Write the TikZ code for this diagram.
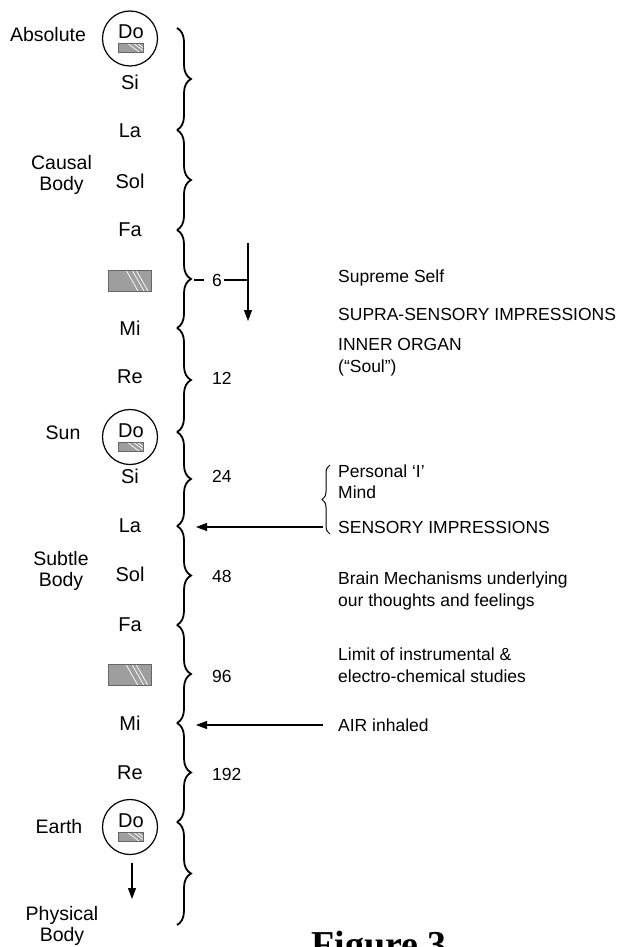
\documentclass[tikz,border=0pt]{standalone}
\usepackage{fontspec}
\setmainfont{Liberation Sans}
\newfontfamily\figfont{Liberation Serif}
\usetikzlibrary{decorations.pathreplacing,arrows.meta}
\begin{document}
\begin{tikzpicture}[x=1pt,y=-1pt,
  note/.style={font=\fontsize{20}{24}\selectfont, inner sep=0pt},
  side/.style={font=\fontsize{19.5}{21}\selectfont, align=center, inner sep=0pt},
  txt/.style={font=\fontsize{17.5}{22}\selectfont, anchor=base west, align=left, inner sep=0pt},
  num/.style={font=\fontsize{17.5}{21}\selectfont, anchor=west, inner sep=0pt},
  bigbrace/.style={decorate, decoration={brace, amplitude=14pt}, line width=1.8pt},
  smallbrace/.style={decorate, decoration={brace, amplitude=8pt}, line width=1pt},
  ring/.style={circle, draw, line width=1.2pt, minimum size=55pt, inner sep=0pt},
  hatch/.style={draw=black!60, fill=black!38, line width=0.6pt, inner sep=0pt,
    path picture={
      \draw[white, line width=0.7pt]
        ([xshift=-4pt]path picture bounding box.north) -- ([xshift=8pt]path picture bounding box.south)
        ([xshift=2pt]path picture bounding box.north) -- ([xshift=14pt]path picture bounding box.south)
        ([xshift=6pt]path picture bounding box.north) -- ([xshift=18pt]path picture bounding box.south);
    }},
  bar/.style={hatch, minimum width=43pt, minimum height=21pt},
  minibar/.style={hatch, minimum width=25pt, minimum height=9pt},
  arr/.style={line width=1.1pt, -{Triangle[length=11pt,width=8pt]}},
  rule/.style={line width=1.1pt}
]
\useasboundingbox (0,0) rectangle (622,947);

% ---- left-hand labels ----
\node[side] (absolute) at (48,35) {Absolute};
\node[side] (causal) at (61.5,175) {Causal\\Body};
\node[side] (sun) at (63,433) {Sun};
\node[side] (subtle) at (61,571) {Subtle\\Body};
\node[side] (earth) at (59,827) {Earth};
\node[side] (physical) at (62,926) {Physical\\Body};

% ---- the three Do circles ----
\node[ring] (doA) at (130,38.5) {};
\node[note] (doAt) at (131,32) {Do};
\node[minibar] (doAb) at (131,47.5) {};

\node[ring] (doS) at (130,437) {};
\node[note] (doSt) at (131,431) {Do};
\node[minibar] (doSb) at (131,446.5) {};

\node[ring] (doE) at (130,827) {};
\node[note] (doEt) at (131,821) {Do};
\node[minibar] (doEb) at (131,836.5) {};

% ---- notes of the octaves ----
\node[note] (si1) at (130,82) {Si};
\node[note] (la1) at (130,131) {La};
\node[note] (sol1) at (130,181) {Sol};
\node[note] (fa1) at (130,230) {Fa};
\node[bar] (bar1) at (130,280.5) {};
\node[note] (mi1) at (130,328) {Mi};
\node[note] (re1) at (130,377) {Re};
\node[note] (si2) at (130,476) {Si};
\node[note] (la2) at (130,526) {La};
\node[note] (sol2) at (130,574) {Sol};
\node[note] (fa2) at (130,625) {Fa};
\node[bar] (bar2) at (130,675) {};
\node[note] (mi2) at (130,723) {Mi};
\node[note] (re2) at (130,773) {Re};

% down arrow below the Earth Do
\coordinate (downA) at (132,863);
\coordinate (downB) at (132,899);
\draw[arr] (downA) -- (downB);

% ---- chain of braces ----
\foreach \n/\y in {0/28,1/130,2/230,3/328,4/432,5/526,6/625,7/723,8/822,9/925}
  \coordinate (j\n) at (177,\y);
\foreach \a/\b in {0/1,1/2,2/3,3/4,4/5,5/6,6/7,7/8,8/9}
  \draw[bigbrace] (j\a) -- (j\b);

% ---- numbers ----
\node[font=\fontsize{17.5}{21}\selectfont, inner sep=0pt] (six) at (217,280) {6};
\coordinate (sixL) at (194,280);
\coordinate (sixLe) at (204,280);
\coordinate (sixR) at (248,280);
\coordinate (sixTop) at (248,243);
\coordinate (sixBot) at (248,321);
\draw[rule] (sixL) -- (sixLe);
\draw[rule] (six.east) ++(2,0) -- (sixR);
\draw[arr] (sixTop) -- (sixBot);

\node[num] (n12) at (212,378) {12};
\node[num] (n24) at (212,476) {24};
\node[num] (n48) at (212,576) {48};
\node[num] (n96) at (212,676) {96};
\node[num] (n192) at (212,774) {192};

% ---- right-hand descriptions ----
\node[txt] (supreme) at (338,282) {Supreme Self};
\node[txt] (supra) at (338,320) {SUPRA-SENSORY IMPRESSIONS};
\node[txt] (inner) at (338,372) {INNER ORGAN\\(“Soul”)};
\node[txt] (personal) at (338,477) {Personal ‘I’};
\node[txt] (mind) at (338,498) {Mind};
\node[txt] (sensory) at (338,533) {SENSORY IMPRESSIONS};
\node[txt] (brain) at (338,606) {Brain Mechanisms underlying\\our thoughts and feelings};
\node[txt] (limit) at (338,682) {Limit of instrumental \&\\electro-chemical studies};
\node[txt] (air) at (338,731) {AIR inhaled};

% brace grouping the personal I, mind and impressions
\coordinate (sbBot) at (330,534);
\coordinate (sbTop) at (330,465);
\draw[smallbrace] (sbBot) -- (sbTop);

% impressions and air entering the octave
\coordinate (senseFrom) at (323,527);
\coordinate (senseTo) at (196,527);
\draw[arr] (senseFrom) -- (senseTo);
\coordinate (airFrom) at (323,725);
\coordinate (airTo) at (196,725);
\draw[arr] (airFrom) -- (airTo);

% ---- caption ----
\node[font=\fontsize{38}{40}\figfont\bfseries, anchor=base, inner sep=0pt] (caption) at (379,957) {Figure 3};
\end{tikzpicture}
\end{document}
